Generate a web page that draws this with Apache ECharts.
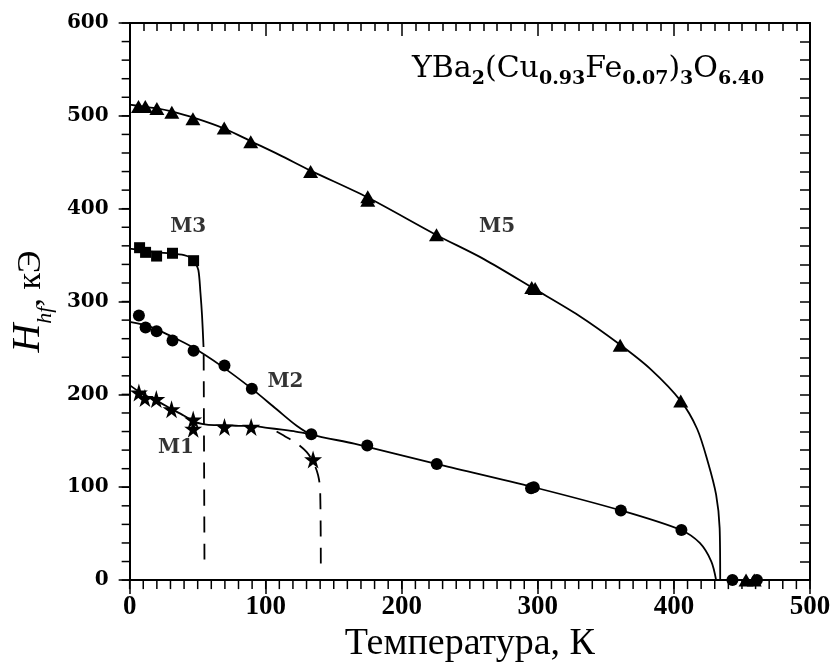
<!DOCTYPE html>
<html>
<head>
<meta charset="utf-8">
<script src="https://cdn.jsdelivr.net/npm/echarts@6/dist/echarts.min.js"></script>
<style>
  html, body { margin: 0; padding: 0; background: #fff; }
  #plot { width: 838px; height: 668px; }
</style>
</head>
<body>
<div id="plot"></div>
<script>
// measured points (temperature K, H_hf kOe)
const m5T = [6.5, 11.5, 20, 31, 46.5, 69.5, 89, 133, 175, 175, 225.5, 295.5, 298, 360.5, 405];
const m5H = [510, 510, 508, 504, 497, 487, 472, 440, 413, 409, 372, 315, 314, 253, 193];
const m3T = [7.3, 11.7, 19.8, 31.5, 47];
const m3H = [358, 353, 349, 352, 344];
const m2T = [6.8, 11.7, 19.8, 31.5, 47, 69.7, 89.8, 133.5, 174.6, 225.7, 295, 297, 361, 405.5];
const m2H = [285, 272, 268, 258, 247, 231, 206, 157, 145, 125, 99, 100, 75, 54];
const m1T = [6.8, 11.2, 19.6, 30.8, 46.7, 46.7, 69.7, 89.3, 134.8];
const m1H = [202, 196, 195, 184, 173, 163, 165, 165, 130];
// points at zero field above the transition
const zeroCircleT = [443, 461];
const zeroTriT = [453, 459];

// fitted curves
const m5CurveT = [0, 10, 20, 30, 47, 70, 90, 110, 133, 175, 225, 260, 297, 330, 360, 383, 405, 417, 425, 431, 433.6, 434];
const m5CurveH = [512, 510, 508, 505, 498, 486, 472, 458, 441, 412, 372, 346, 314, 285, 254, 227, 193, 163, 127, 92, 56, 0];
const m2CurveT = [0, 15, 30, 46, 67, 89, 108, 123, 133.5, 165, 226, 297, 361, 405, 419, 427.5, 431];
const m2CurveH = [278, 273, 263, 251, 231, 207, 184, 166, 157, 147, 125, 100, 75, 54, 40, 20, 0];
const m1CurveT = [0, 10, 20, 30, 40, 47, 54, 62, 70, 80, 90, 101, 112, 122, 133.5];
const m1CurveH = [210, 200, 193, 185, 177, 171, 168, 167, 167, 166, 166, 164, 162, 160, 157];
const m1DashT = [108, 114, 123, 130, 135, 138.5, 140, 140.5];
const m1DashH = [160, 155, 147, 138, 127, 113, 97, 9];
const m3CurveT = [0, 10, 20, 30, 40, 45, 48, 50.5, 52, 53.2, 54.3];
const m3CurveH = [357, 355, 353, 352, 350, 347, 342, 334, 310, 285, 251];
const m3DashT = [54.4, 55];
const m3DashH = [243, 15];

// phase labels
const phaseNames = ['M1', 'M2', 'M3', 'M5'];
const phaseT = [34, 114.5, 43, 270];
const phaseH = [143, 214, 381, 380];

// minor tick values on the bottom and left sides
const xMinorTicks = Array.from({ length: 51 }, (_, i) => i * 10);
const yMinorTicks = Array.from({ length: 31 }, (_, i) => i * 20);

const zip = (xs, ys) => xs.map((x, i) => [x, ys[i]]);
const STAR = 'path://M50,0 L61,35 L98,35 L68,57 L79,91 L50,70 L21,91 L32,57 L2,35 L39,35 Z';

const chart = echarts.init(document.getElementById('plot'));

const curve = (data, dashed) => ({
    type: 'line',
    data: data,
    smooth: 0.3,
    showSymbol: false,
    silent: true,
    lineStyle: { color: '#000', width: 1.8, type: dashed ? [16, 11] : 'solid' },
    z: 2
});
const points = (data, symbol, size) => ({
    type: 'scatter',
    data: data,
    symbol: symbol,
    symbolSize: size,
    itemStyle: { color: '#000', opacity: 1 },
    z: 3
});
// short outward tick marks placed through the axes' scales
const minorTicks = (data, dx, dy) => ({
    type: 'custom',
    data: data,
    silent: true,
    clip: false,
    renderItem: (params, api) => {
        const p = api.coord([api.value(0), api.value(1)]);
        return {
            type: 'line',
            shape: { x1: p[0], y1: p[1], x2: p[0] + dx, y2: p[1] + dy },
            style: { stroke: '#000', lineWidth: 1.5 }
        };
    },
    z: 4
});

const axisFontY = { fontFamily: 'DejaVu Serif', fontWeight: 'bold', fontSize: 20, color: '#000' };
const axisFontX = { fontFamily: 'Liberation Serif', fontWeight: 'bold', fontSize: 27, color: '#000' };
const lineBlack = () => ({ color: '#000', width: 2 });
const tickStyle = () => ({ color: '#000', width: 1.5 });

// label-less mirrored axis for the top and right frame
const frameAxis = (max, position, length, minor, minorLen) => ({
    type: 'value', min: 0, max: max, interval: 100, position: position,
    axisLine: { show: true, onZero: false, lineStyle: lineBlack() },
    axisTick: { show: true, inside: true, length: length, lineStyle: tickStyle() },
    minorTick: { show: true, splitNumber: minor, length: minorLen, lineStyle: tickStyle() },
    splitLine: { show: false },
    axisLabel: { show: false }
});

chart.setOption({
    backgroundColor: '#fff',
    animation: false,
    grid: { left: 129, right: 28, top: 23, bottom: 82 },
    xAxis: [
        {
            type: 'value', min: 0, max: 500, interval: 100,
            axisLine: { onZero: false, lineStyle: lineBlack() },
            axisTick: { length: 14, lineStyle: tickStyle() },
            splitLine: { show: false },
            axisLabel: Object.assign({ margin: 13 }, axisFontX),
            name: 'Температура, К',
            nameLocation: 'middle',
            nameGap: 44,
            nameTextStyle: { fontFamily: 'Liberation Serif', fontSize: 38, color: '#000' }
        },
        frameAxis(500, 'top', 13, 10, 8)
    ],
    yAxis: [
        {
            type: 'value', min: 0, max: 600, interval: 100,
            axisLine: { show: true, onZero: false, lineStyle: lineBlack() },
            axisTick: { show: true, length: 11, lineStyle: tickStyle() },
            splitLine: { show: false },
            axisLabel: Object.assign({ margin: 21 }, axisFontY),
            name: '{i|H}{s|hf}{t|, кЭ}',
            nameLocation: 'middle',
            nameRotate: 90,
            nameGap: 78,
            nameTextStyle: {
                rich: {
                    i: { fontFamily: 'Liberation Serif', fontStyle: 'italic', fontSize: 40, color: '#000', lineHeight: 44, verticalAlign: 'bottom' },
                    s: { fontFamily: 'Liberation Serif', fontStyle: 'italic', fontSize: 22, color: '#000', lineHeight: 44, verticalAlign: 'bottom', padding: [0, 0, -8, 0] },
                    t: { fontFamily: 'Liberation Serif', fontSize: 34, color: '#000', lineHeight: 44, verticalAlign: 'bottom' }
                }
            }
        },
        frameAxis(600, 'right', 10, 5, 10)
    ],
    graphic: [{
        type: 'text',
        left: 412,
        top: 54,
        style: {
            text: '{m|YBa}{b|2}{m|(Cu}{b|0.93}{m|Fe}{b|0.07}{m|)}{b|3}{m|O}{b|6.40}',
            rich: {
                m: { fontFamily: 'DejaVu Serif', fontSize: 30, fill: '#000', lineHeight: 38, verticalAlign: 'bottom' },
                b: { fontFamily: 'DejaVu Serif', fontWeight: 'bold', fontSize: 19, fill: '#000', lineHeight: 38, verticalAlign: 'bottom', padding: [0, 0, -5, 0] }
            }
        }
    }],
    series: [
        curve(zip(m5CurveT, m5CurveH)),
        curve(zip(m2CurveT, m2CurveH)),
        curve(zip(m1CurveT, m1CurveH)),
        curve(zip(m3CurveT, m3CurveH)),
        curve(zip(m1DashT, m1DashH), true),
        curve(zip(m3DashT, m3DashH), true),
        points(zip(m5T, m5H), 'triangle', [15, 13]),
        points(zip(zeroTriT, zeroTriT.map(() => 0)), 'triangle', [15, 13]),
        points(zip(m3T, m3H), 'rect', 11),
        points(zip(m2T, m2H), 'circle', 12),
        points(zip(zeroCircleT, zeroCircleT.map(() => 0)), 'circle', 12),
        points(zip(m1T, m1H), STAR, 18),
        minorTicks(xMinorTicks.map(v => [v, 0]), 0, 9),
        minorTicks(yMinorTicks.map(v => [0, v]), -8, 0),
        {
            type: 'scatter',
            data: zip(phaseT, phaseH).map((p, i) => ({ value: p, name: phaseNames[i] })),
            symbolSize: 0,
            silent: true,
            label: {
                show: true,
                position: 'inside',
                formatter: '{b}',
                fontFamily: 'DejaVu Serif',
                fontWeight: 'bold',
                fontSize: 20,
                color: '#000'
            }
        }
    ]
});
</script>
</body>
</html>
